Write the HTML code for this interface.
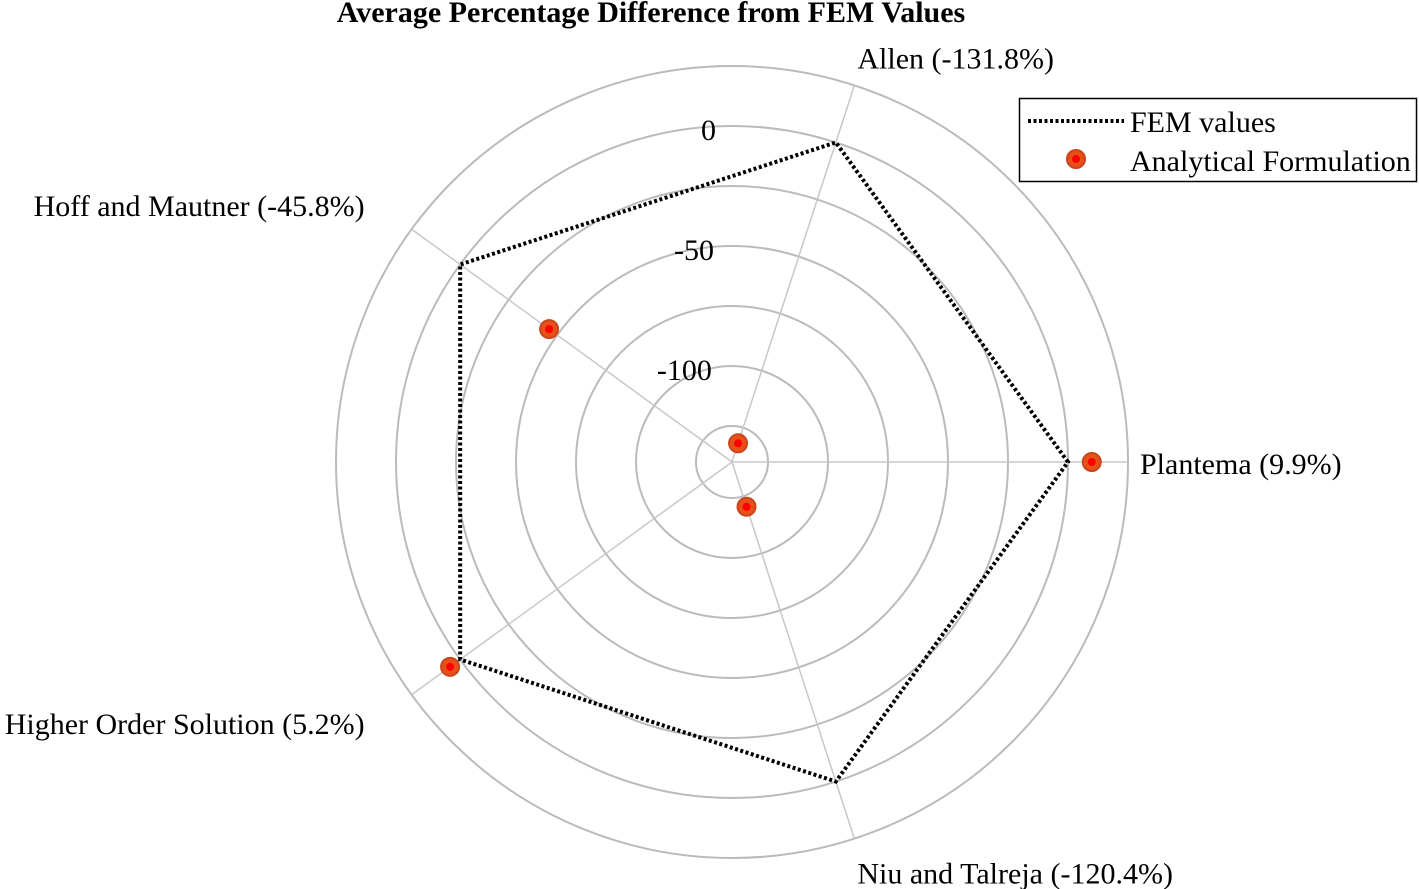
<!DOCTYPE html>
<html><head><meta charset="utf-8"><style>
html,body{margin:0;padding:0;background:#fff;}
svg{display:block;font-family:"Liberation Serif",serif;}
</style></head><body>
<svg id="chart" width="1419" height="889" viewBox="0 0 1419 889">
<text x="651" y="22" text-anchor="middle" font-size="30" font-weight="bold">Average Percentage Difference from FEM Values</text>
<g id="grid"></g><g id="series"></g><g id="labels"></g>
<g>
<rect x="1019.5" y="98.5" width="397" height="83" fill="#fff" stroke="#000" stroke-width="1.5"/>
<line x1="1028" y1="121" x2="1124" y2="121" stroke="#000" stroke-width="4" stroke-dasharray="3,2.5"/>
<text x="1130" y="132" font-size="30">FEM values</text>
<circle cx="1076" cy="159" r="9" fill="#e8501a" stroke="#c9461c" stroke-width="2"/>
<circle cx="1076" cy="159" r="4" fill="#ff0000"/>
<text x="1130" y="171" font-size="30">Analytical Formulation</text>
</g>
</svg>
<script>
const categories = ["Plantema (9.9%)","Allen (-131.8%)","Hoff and Mautner (-45.8%)","Higher Order Solution (5.2%)","Niu and Talreja (-120.4%)"];
const femValues = [0,0,0,0,0];
const analyticalValues = [9.9,-131.8,-45.8,5.2,-120.4];
const ringValues = [-125,-100,-75,-50,-25,0,25];
const tickValues = [0,-50,-100];
const tickLabels = ["0","-50","-100"];

const cx=732, cy=462, vMin=-140, vMax=25, rMax=396;
const ns="http://www.w3.org/2000/svg";
function rScale(v){return (v-vMin)/(vMax-vMin)*rMax;}
function angle(i){return i*2*Math.PI/categories.length;}
function pt(i,v){const r=rScale(v),a=angle(i);return [cx+r*Math.cos(a), cy-r*Math.sin(a)];}
function mk(tag,attrs,parent){const e=document.createElementNS(ns,tag);for(const k in attrs)e.setAttribute(k,attrs[k]);parent.appendChild(e);return e;}
const grid=document.getElementById('grid'), series=document.getElementById('series'), labels=document.getElementById('labels');

ringValues.forEach(v=>{
  const c=mk('circle',{cx:cx,cy:cy,r:rScale(v),fill:'none',stroke:'#bbbbbb','stroke-width':2},grid);
  
  
});
categories.forEach((c,i)=>{
  const [x,y]=pt(i,vMax);
  const l=mk('line',{x1:cx,y1:cy,x2:x,y2:y,stroke:'#c8c8c8','stroke-width':1.5},grid);
  
  
});
tickValues.forEach((v,k)=>{
  const r=rScale(v);
  const t=mk('text',{x:cx-16-(336-r)*0.017,y:cy-r+14,'text-anchor':'end','font-size':30},labels);
  t.textContent=tickLabels[k];
  
  
});
const anchors=[['start',12,12],['start',3,-17],['end',-47,-13],['end',-47,39],['start',3,45]];
categories.forEach((c,i)=>{
  const [x,y]=pt(i,vMax);
  const t=mk('text',{x:x+anchors[i][1],y:y+anchors[i][2],'text-anchor':anchors[i][0],'font-size':30},labels);
  t.textContent=c;
  
  
});
const femPts=femValues.map((v,i)=>pt(i,v).join(',')).join(' ');
const poly=mk('polygon',{points:femPts,fill:'none',stroke:'#000','stroke-width':4,'stroke-dasharray':'3,2.5'},series);


analyticalValues.forEach((v,i)=>{
  const [x,y]=pt(i,v);
  const m=mk('circle',{cx:x,cy:y,r:9,fill:'#e8501a',stroke:'#c9461c','stroke-width':2},series);
  
  
  const d=mk('circle',{cx:x,cy:y,r:4,fill:'#ff0000'},series);
  
  
});
</script>
</body></html>
